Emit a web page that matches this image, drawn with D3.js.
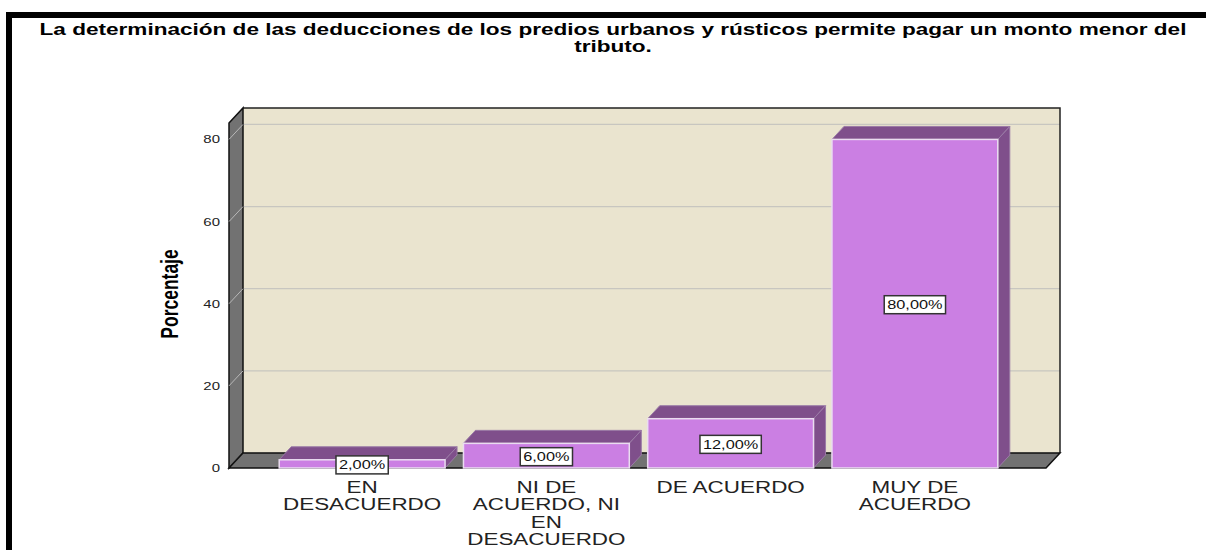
<!DOCTYPE html>
<html>
<head>
<meta charset="utf-8">
<script src="https://cdn.jsdelivr.net/npm/d3@7"></script>
<style>
  html, body { margin: 0; padding: 0; background: #fff; }
  svg { display: block; font-family: "Liberation Sans", Arial, sans-serif; }
</style>
</head>
<body>
<div id="chart"></div>
<script>
// data
const categories = [
	['EN', 'DESACUERDO'],
	['NI DE', 'ACUERDO, NI', 'EN', 'DESACUERDO'],
	['DE ACUERDO'],
	['MUY DE', 'ACUERDO']
];
const percents = [2, 6, 12, 80];
const valueLabels = ['2,00%', '6,00%', '12,00%', '80,00%'];
const yTicks = [0, 20, 40, 60, 80];
const titleLines = [
	'La determinación de las deducciones de los predios urbanos y rústicos permite pagar un monto menor del',
	'tributo.'
];

const W = 1206, H = 550;
const SX = 1.36; // the reference is stretched horizontally
const _m = {l:229, r:1046, t:123, b:468};
const wall = {dx:14, dy:-15}, bar = {dx:12, dy:-13};

const svg = d3.select('#chart').append('svg')
	.attr('width', W).attr('height', H);

const y = d3.scaleLinear().domain([0, 84]).range([_m.b, _m.t]);
const x = d3.scaleBand().domain(d3.range(percents.length))
	.range([270, 1007]).paddingInner(0.1).paddingOuter(0.05);

// outer frame
svg.append('rect')
	.attr('x', 9).attr('y', 15).attr('width', 1400).attr('height', 800)
	.style('fill', 'none').style('stroke', '#000').style('stroke-width', 6);

function stretched(sel, px, py){
	return sel.attr('transform', `translate(${px},${py}) scale(${SX},1)`);
}

// title
titleLines.forEach((t, i) => {
	stretched(svg.append('text'), 613, 35 + i * 17)
		.attr('text-anchor', 'middle')
		.style('font-size', '16.6px').style('font-weight', 'bold').style('fill', '#000')
		.text(t);
});

const bx0 = _m.l + wall.dx, by0 = _m.b + wall.dy;

// back wall
svg.append('rect')
	.attr('x', bx0).attr('y', _m.t + wall.dy)
	.attr('width', _m.r + wall.dx - bx0).attr('height', _m.b - _m.t)
	.style('fill', '#eae4cf');

// gridlines
const grid = svg.append('g');
yTicks.forEach(t => {
	grid.append('polyline')
		.attr('points', `${_m.l},${y(t)} ${bx0},${y(t) + wall.dy} ${_m.r + wall.dx},${y(t) + wall.dy}`)
		.style('fill', 'none').style('stroke', '#c8c6c0').style('stroke-width', 1.2);
});

// back wall border (top, right)
svg.append('polyline')
	.attr('points', `${bx0},${_m.t + wall.dy} ${_m.r + wall.dx},${_m.t + wall.dy} ${_m.r + wall.dx},${by0}`)
	.style('fill', 'none').style('stroke', '#222').style('stroke-width', 1.5);

// left wall
svg.append('polygon')
	.attr('points', `${_m.l},${_m.t} ${bx0},${_m.t + wall.dy} ${bx0},${by0} ${_m.l},${_m.b}`)
	.style('fill', '#727272').style('stroke', '#111').style('stroke-width', 1.5);
yTicks.forEach(t => {
	svg.append('line')
		.attr('x1', _m.l).attr('y1', y(t)).attr('x2', bx0).attr('y2', y(t) + wall.dy)
		.style('stroke', '#b8b8b8').style('stroke-width', 1);
});

// floor
svg.append('polygon')
	.attr('points', `${_m.l},${_m.b} ${bx0},${by0} ${_m.r + wall.dx},${by0} ${_m.r},${_m.b}`)
	.style('fill', '#727272').style('stroke', '#111').style('stroke-width', 1.5);

// y tick labels
yTicks.forEach(t => {
	stretched(svg.append('text'), 220, y(t) + 4)
		.attr('text-anchor', 'end')
		.style('font-size', '11px').style('fill', '#222')
		.text(t);
});

// y axis title
svg.append('text')
	.attr('transform', `translate(178,294) scale(${SX},1) rotate(-90)`)
	.attr('text-anchor', 'middle')
	.style('font-size', '17.5px').style('font-weight', 'bold').style('fill', '#000')
	.text('Porcentaje');

// bars
const bars = svg.selectAll('.bar')
	.data(percents)
	.enter()
	.append('g').attr('class', 'bar');

bars.each(function(v, i){
	const g = d3.select(this);
	const x0 = x(i), x1 = x(i) + x.bandwidth(), yt = y(v), yb = y(0);
	g.append('polygon')
		.attr('points', `${x0},${yt} ${x0 + bar.dx},${yt + bar.dy} ${x1 + bar.dx},${yt + bar.dy} ${x1},${yt}`)
		.style('fill', '#7f4f8b').style('stroke', '#9a7aa6').style('stroke-width', 1);
	g.append('polygon')
		.attr('points', `${x1},${yt} ${x1 + bar.dx},${yt + bar.dy} ${x1 + bar.dx},${yb + bar.dy} ${x1},${yb}`)
		.style('fill', '#7f4f8b').style('stroke', '#9a7aa6').style('stroke-width', 1);
	g.append('rect')
		.attr('x', x0).attr('y', yt).attr('width', x.bandwidth()).attr('height', yb - yt)
		.style('fill', '#cb7fe3').style('stroke', '#eadcf0').style('stroke-width', 1.5);
});

// value labels
bars.each(function(v, i){
	const g = d3.select(this);
	const cx = x(i) + x.bandwidth() / 2, cy = (y(v) + y(0)) / 2 + 1;
	const box = g.append('rect');
	const txt = stretched(g.append('text'), cx, cy + 4.5)
		.attr('text-anchor', 'middle')
		.style('font-size', '12px').style('fill', '#111')
		.text(valueLabels[i]);
	const w = txt.node().getComputedTextLength() * SX + 6;
	box.attr('x', cx - w / 2).attr('y', cy - 9).attr('width', w).attr('height', 18)
		.style('fill', '#fff').style('stroke', '#333').style('stroke-width', 1.5);
});

// category labels
categories.forEach((lines, i) => {
	const cx = x(i) + x.bandwidth() / 2;
	lines.forEach((ln, j) => {
		stretched(svg.append('text'), cx, 493 + j * 17.3)
			.attr('text-anchor', 'middle')
			.style('font-size', '16.5px').style('fill', '#222')
			.text(ln);
	});
});
</script>
</body>
</html>
